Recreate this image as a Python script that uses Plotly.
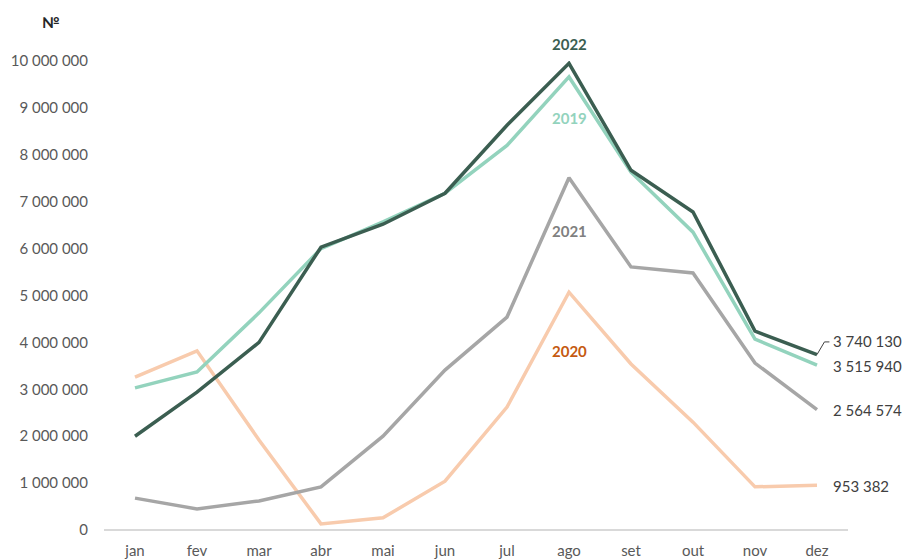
import plotly.graph_objects as go

months = ["jan", "fev", "mar", "abr", "mai", "jun", "jul", "ago", "set", "out", "nov", "dez"]
y2019 = [3030000, 3370000, 4630000, 6000000, 6570000, 7180000, 8200000, 9660000, 7630000, 6350000, 4070000, 3515940]
y2020 = [3260000, 3820000, 1920000, 130000, 260000, 1040000, 2620000, 5070000, 3540000, 2300000, 920000, 953382]
y2021 = [680000, 450000, 620000, 920000, 2000000, 3410000, 4540000, 7510000, 5610000, 5480000, 3560000, 2564574]
y2022 = [2000000, 2940000, 4000000, 6030000, 6520000, 7180000, 8630000, 9950000, 7670000, 6780000, 4240000, 3740130]
y_ticks = [0, 1000000, 2000000, 3000000, 4000000, 5000000, 6000000, 7000000, 8000000, 9000000, 10000000]

FONT = "Lato"
# name, values, line colour, label colour, label y (data), label yshift (px)
series = [
    ("2020", y2020, "#f8cbad", "#c55a11", 3820000, 0),
    ("2021", y2021, "#a6a6a6", "#808080", 6380000, 0),
    ("2019", y2019, "#93d3bd", "#93d3bd", 8780000, 0),
    ("2022", y2022, "#3b5e51", "#3b5e51", 9950000, 19),
]


def fmt(v):
    return f"{v:,}".replace(",", " ")


fig = go.Figure()
for name, ys, color, lcolor, _, _ in series:
    fig.add_trace(go.Scatter(x=months, y=ys, mode="lines", name=name,
                             line=dict(color=color, width=3.5), cliponaxis=False))

annotations = []
for name, ys, color, lcolor, yv, ysh in series:
    annotations.append(dict(x=months[7], y=yv, yshift=ysh, text=f"<b>{name}</b>", showarrow=False,
                            font=dict(family=FONT, size=15, color=lcolor), xref="x", yref="y"))

end_offsets = {"2022": 300000, "2019": -20000, "2021": 0, "2020": -10000}
for name, ys, color, lcolor, _, _ in series:
    annotations.append(dict(x=months[-1], y=ys[-1] + end_offsets[name], text=fmt(ys[-1]), showarrow=False,
                            xanchor="left", xshift=14, font=dict(family=FONT, size=15, color="#404040"),
                            xref="x", yref="y"))

annotations.append(dict(x=0, y=1, xref="paper", yref="paper", text="<b>№</b>", showarrow=False,
                        xanchor="center", yanchor="bottom", xshift=-53, yshift=28,
                        font=dict(family=FONT, size=15, color="#262626")))

shapes = [dict(type="path", xref="x", yref="y",
               path=f"M 11,{y2022[-1]} L 11.12,{y2022[-1] + 270000} L 11.2,{y2022[-1] + 270000}",
               line=dict(color="#404040", width=1))]

fig.update_layout(
    width=907, height=560,
    margin=dict(l=104, r=59, t=61, b=30),
    paper_bgcolor="white", plot_bgcolor="white",
    showlegend=False,
    annotations=annotations,
    shapes=shapes,
    font=dict(family=FONT, size=15, color="#595959"),
    xaxis=dict(type="category", range=[-0.5, 11.5], showgrid=False, zeroline=False, automargin=False,
               showline=False, ticks="outside", ticklen=7, tickcolor="rgba(0,0,0,0)",
               tickfont=dict(family=FONT, size=15, color="#595959")),
    yaxis=dict(range=[0, 10000000], tickvals=y_ticks, ticktext=[fmt(v) for v in y_ticks], automargin=False,
               showgrid=False, zeroline=True, zerolinecolor="#d9d9d9", zerolinewidth=1.5,
               showline=False, ticks="outside", ticklen=12, tickcolor="rgba(0,0,0,0)",
               tickfont=dict(family=FONT, size=15, color="#595959")),
)

fig.write_html("out.html")
